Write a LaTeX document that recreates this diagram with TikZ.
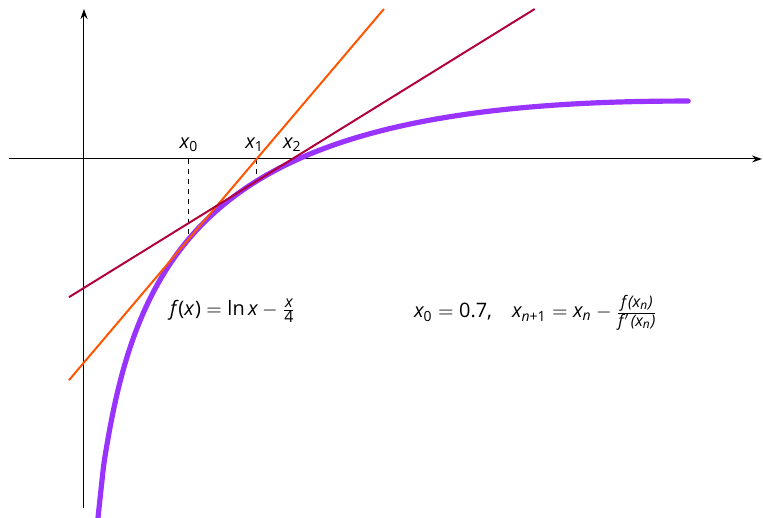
\documentclass[tikz,border=0pt]{standalone}
\usepackage{amsmath}
\usepackage{fontspec}
\setmainfont{Open Sans}
\usetikzlibrary{arrows.meta}
\definecolor{curvecol}{RGB}{153,51,255}
\definecolor{tanA}{RGB}{255,85,0}
\definecolor{tanB}{RGB}{178,0,58}
\newcommand\mi[1]{\text{\itshape #1}}
\newcommand\mt[1]{\text{#1}}
\newcommand\fr[1]{\text{\footnotesize #1}}
\begin{document}
\begin{tikzpicture}[x=2.6458cm,y=2.6458cm,
  axis/.style={line width=0.5pt,-{Stealth[length=5pt,width=3.5pt]}},
  tangent/.style={line width=1pt},
  fcurve/.style={curvecol,line width=2.6pt,line cap=round},
  guide/.style={line width=0.5pt,dash pattern=on 2.5pt off 2.5pt},
  lab/.style={inner sep=0pt,font=\normalsize}]
\useasboundingbox (-0.56,-2.387) rectangle (4.527,1.06);
% axes
\coordinate (xl) at (-0.5,0);
\coordinate (xr) at (4.52,0);
\coordinate (yb) at (0,-2.33);
\coordinate (yt) at (0,1.0);
\draw[axis] (xl) -- (xr);
\draw[axis] (yb) -- (yt);
% guides
\coordinate (a0) at (0.7,0);
\coordinate (b0) at (0.7,-0.5317);
\coordinate (a1) at (1.1511,0);
\coordinate (b1) at (1.1511,-0.1471);
\draw[guide] (a0) -- (b0);
\draw[guide] (a1) -- (b1);
% curve
\draw[fcurve,domain=0.093:4.03,samples=200,smooth] plot (\x,{ln(\x)-\x/4});
% tangents
\draw[tangent,tanA,domain=-0.1:2.0] plot (\x,{-0.5317+1.1786*(\x-0.7)});
\draw[tangent,tanB,domain=-0.1:3.005] plot (\x,{-0.1471+0.6188*(\x-1.1511)});
% labels
\node[lab,above=3.5pt] (lx0) at (a0) {$\mi{x}_{\mt{0}}$};
\node[lab,above=3.5pt,xshift=-1pt] (lx1) at (a1) {$\mi{x}_{\mt{1}}$};
\node[lab,above=3.5pt] (lx2) at (1.389,0) {$\mi{x}_{\mt{2}}$};
\node[lab] (fdef) at (0.993,-1.013) {$\mi{f}\mkern2mu\mt{(}\mi{x}\mkern1mu\mt{)}=\mt{ln}\,\mi{x}-\frac{\fr{\itshape x}}{\fr{4}}$};
\node[lab] (iter) at (3.013,-1.027) {$\mi{x}_{\mt{0}}=\mt{0.7,}\quad \mi{x}_{\mi{n}\mt{+1}}=\mi{x}_{\mi{n}}-\frac{\fr{\itshape f\kern1pt(x\textsubscript{n})}}{\fr{\itshape f\kern0.5pt$'$\kern0.5pt(x\textsubscript{n})}}$};
\end{tikzpicture}
\end{document}
